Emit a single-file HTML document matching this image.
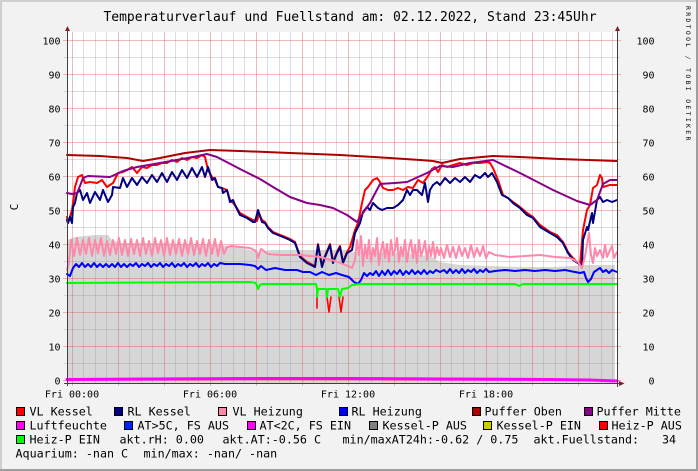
<!DOCTYPE html>
<html><head><meta charset="utf-8"><style>
html,body{margin:0;padding:0;background:#F2F2F2;}
svg{display:block;}
text{font-family:"DejaVu Sans Mono","Liberation Mono",monospace;fill:#000;}
</style></head><body>
<svg width="698" height="471" viewBox="0 0 698 471" xmlns="http://www.w3.org/2000/svg">
<rect x="0" y="0" width="698" height="471" fill="#F2F2F2"/>
<!-- frame shades -->
<rect x="0" y="0" width="698" height="2" fill="#CFCFCF"/>
<rect x="0" y="0" width="2" height="471" fill="#CFCFCF"/>
<rect x="0" y="469" width="698" height="2" fill="#9E9E9E"/>
<rect x="696" y="0" width="2" height="471" fill="#9E9E9E"/>

<!-- title -->
<text x="350" y="20.8" font-size="13" text-anchor="middle">Temperaturverlauf und Fuellstand am: 02.12.2022, Stand 23:45Uhr</text>
<!-- watermark -->
<text transform="translate(686,6) rotate(90)" font-size="6.5" letter-spacing="2.3" fill="#C4C4C4">RRDTOOL / TOBI OETIKER</text>
<!-- y axis title -->
<text transform="translate(18,207) rotate(-90)" font-size="11" text-anchor="middle">C</text>

<!-- canvas -->
<rect x="67" y="32" width="550" height="351" fill="#FFFFFF"/>

<!-- gray area (Kessel-P AUS) -->
<polygon fill="#D6D6D6" points="67,383 67,240 75,237 85,236 95,235 108,235 112,240 120,243 140,243 160,243 180,244 200,244 220,245 235,247 250,250 260,252 270,250 345,250 352,252 360,252 370,252 400,253 430,256 440,262 460,265 520,267 555,267 587,265 615,265 615,383"/>

<!-- minor vertical grid -->
<g stroke="rgba(143,143,143,0.3)" stroke-width="1">
<line x1="83.5" y1="32" x2="83.5" y2="383"/><line x1="95.5" y1="32" x2="95.5" y2="383"/><line x1="106.5" y1="32" x2="106.5" y2="383"/>
<line x1="129.5" y1="32" x2="129.5" y2="383"/><line x1="141.5" y1="32" x2="141.5" y2="383"/><line x1="152.5" y1="32" x2="152.5" y2="383"/>
<line x1="175.5" y1="32" x2="175.5" y2="383"/><line x1="187.5" y1="32" x2="187.5" y2="383"/><line x1="198.5" y1="32" x2="198.5" y2="383"/>
<line x1="221.5" y1="32" x2="221.5" y2="383"/><line x1="233.5" y1="32" x2="233.5" y2="383"/><line x1="244.5" y1="32" x2="244.5" y2="383"/>
<line x1="267.5" y1="32" x2="267.5" y2="383"/><line x1="279.5" y1="32" x2="279.5" y2="383"/><line x1="290.5" y1="32" x2="290.5" y2="383"/>
<line x1="313.5" y1="32" x2="313.5" y2="383"/><line x1="325.5" y1="32" x2="325.5" y2="383"/><line x1="336.5" y1="32" x2="336.5" y2="383"/>
<line x1="359.5" y1="32" x2="359.5" y2="383"/><line x1="371.5" y1="32" x2="371.5" y2="383"/><line x1="382.5" y1="32" x2="382.5" y2="383"/>
<line x1="405.5" y1="32" x2="405.5" y2="383"/><line x1="417.5" y1="32" x2="417.5" y2="383"/><line x1="428.5" y1="32" x2="428.5" y2="383"/>
<line x1="451.5" y1="32" x2="451.5" y2="383"/><line x1="463.5" y1="32" x2="463.5" y2="383"/><line x1="474.5" y1="32" x2="474.5" y2="383"/>
<line x1="497.5" y1="32" x2="497.5" y2="383"/><line x1="509.5" y1="32" x2="509.5" y2="383"/><line x1="520.5" y1="32" x2="520.5" y2="383"/>
<line x1="543.5" y1="32" x2="543.5" y2="383"/><line x1="555.5" y1="32" x2="555.5" y2="383"/><line x1="566.5" y1="32" x2="566.5" y2="383"/>
<line x1="589.5" y1="32" x2="589.5" y2="383"/><line x1="601.5" y1="32" x2="601.5" y2="383"/><line x1="612.5" y1="32" x2="612.5" y2="383"/>
<!-- minor horizontal -->
<line x1="64" y1="57.5" x2="620" y2="57.5"/><line x1="64" y1="91.5" x2="620" y2="91.5"/><line x1="64" y1="125.5" x2="620" y2="125.5"/>
<line x1="64" y1="159.5" x2="620" y2="159.5"/><line x1="64" y1="193.5" x2="620" y2="193.5"/><line x1="64" y1="227.5" x2="620" y2="227.5"/>
<line x1="64" y1="261.5" x2="620" y2="261.5"/><line x1="64" y1="295.5" x2="620" y2="295.5"/><line x1="64" y1="329.5" x2="620" y2="329.5"/>
<line x1="64" y1="363.5" x2="620" y2="363.5"/>
</g>
<!-- major grid -->
<g stroke="rgba(222,79,79,0.4)" stroke-width="1">
<line x1="72.5" y1="32" x2="72.5" y2="386"/><line x1="118.5" y1="32" x2="118.5" y2="386"/><line x1="164.5" y1="32" x2="164.5" y2="386"/>
<line x1="210.5" y1="32" x2="210.5" y2="386"/><line x1="256.5" y1="32" x2="256.5" y2="386"/><line x1="302.5" y1="32" x2="302.5" y2="386"/>
<line x1="348.5" y1="32" x2="348.5" y2="386"/><line x1="394.5" y1="32" x2="394.5" y2="386"/><line x1="440.5" y1="32" x2="440.5" y2="386"/>
<line x1="486.5" y1="32" x2="486.5" y2="386"/><line x1="532.5" y1="32" x2="532.5" y2="386"/><line x1="578.5" y1="32" x2="578.5" y2="386"/>
<line x1="63" y1="40.5" x2="621" y2="40.5"/><line x1="63" y1="74.5" x2="621" y2="74.5"/><line x1="63" y1="108.5" x2="621" y2="108.5"/>
<line x1="63" y1="142.5" x2="621" y2="142.5"/><line x1="63" y1="176.5" x2="621" y2="176.5"/><line x1="63" y1="210.5" x2="621" y2="210.5"/>
<line x1="63" y1="244.5" x2="621" y2="244.5"/><line x1="63" y1="278.5" x2="621" y2="278.5"/><line x1="63" y1="312.5" x2="621" y2="312.5"/>
<line x1="63" y1="346.5" x2="621" y2="346.5"/><line x1="63" y1="380.5" x2="621" y2="380.5"/>
</g>

<!-- series -->
<g fill="none" stroke-width="2" stroke-linejoin="round" stroke-linecap="round">
<!-- VL Kessel -->
<polyline stroke="#FF0000" points="67,217 68,223 72,210 73,203 75,187 78,177 82,175 85,183 90,182 97,183 102,180 107,187 113,183 118,173 123,172 127,170 132,167 137,173 142,167 147,168 152,165 157,165 162,163 167,163 172,160 177,162 182,158 187,160 192,157 197,158 202,155 205,157 208,170 212,177 215,180 218,187 222,188 227,190 230,200 235,205 240,213 247,217 253,220 257,221 259,214 262,220 265,222 268,227 273,232 283,236 290,239 295,242 300,256 307,262 315,266 318,244 322,266 325,256 330,244 333,262 337,252 340,246 343,262 347,252 350,247 355,230 358,223 362,203 365,190 368,187 373,180 377,178 380,182 383,188 388,190 393,190 398,188 403,190 408,187 413,188 418,180 423,183 428,176 432,169 435,167 438,172 442,165 447,167 453,165 460,163 467,165 473,163 480,163 487,162 490,163 493,168 498,180 503,195 508,198 513,202 520,207 527,213 533,217 540,225 550,232 557,235 563,242 568,252 573,258 580,265 583,230 587,210 590,205 593,188 597,185 600,175 602,178 603,187 610,185 617,185"/>
<!-- RL Kessel -->
<polyline stroke="#000080" points="67,220 68,223 70,217 72,223 73,207 75,203 77,193 80,190 83,200 87,193 90,203 95,192 100,200 103,190 108,202 112,195 113,187 120,188 123,178 127,187 132,178 137,185 142,177 147,183 152,175 157,182 162,173 167,182 172,172 177,180 182,170 187,178 192,168 197,177 202,167 205,177 208,167 212,180 215,178 218,187 222,188 223,193 227,190 230,202 233,200 235,205 240,215 247,218 253,222 255,222 258,210 262,222 265,223 268,228 273,233 283,237 290,240 295,243 300,257 307,263 315,267 318,245 322,267 325,257 330,245 333,263 337,253 340,247 343,263 347,253 352,250 355,233 360,223 363,212 367,207 370,210 373,203 378,208 382,210 387,208 393,208 398,205 403,200 407,190 410,195 413,190 417,190 422,195 425,183 428,202 430,190 433,185 437,182 440,185 445,178 450,183 455,178 460,182 465,177 470,182 475,175 480,178 485,173 488,177 492,173 497,182 502,195 508,198 513,203 520,208 527,215 533,218 540,227 550,233 557,237 563,243 568,253 573,260 578,263 582,266 583,240 587,227 588,230 592,213 593,223 597,200 600,197 603,202 607,200 612,202 617,200"/>
<!-- VL Heizung -->
<polyline stroke="#FF88AA" points="67,270 69,262 71,240 74,256 77,238 80,255 83,240 86,254 89,238 92,256 95,240 98,253 101,238 104,256 107,241 110,255 113,240 116,254 119,238 122,255 125,240 128,256 131,239 134,254 137,240 140,256 143,238 146,254 149,241 152,256 155,238 158,253 161,240 164,256 167,238 170,255 173,240 176,254 179,239 182,256 185,240 188,254 191,238 194,255 197,241 200,254 203,239 206,256 209,240 212,254 215,239 218,256 221,241 224,254 227,247 232,246 240,247 250,248 256,251 258,258 261,249 268,254 280,255 300,255 320,257 335,261 348,266 352,268 355,260 357,240 359,255 361,236 363,266 365,245 367,258 369,240 371,262 373,248 375,256 377,238 379,265 381,250 383,242 385,258 387,244 389,262 391,240 393,255 395,250 397,238 399,262 401,247 403,256 405,240 407,262 409,248 411,240 413,258 415,245 417,263 419,240 421,256 423,250 425,241 427,260 429,246 431,256 433,242 435,258 437,247 439,255 441,248 444,258 447,245 450,257 453,247 456,258 459,246 462,256 465,248 468,258 471,245 474,257 477,248 480,256 483,246 486,258 489,252 495,255 510,257 525,256 540,255 555,257 570,258 578,262 582,268 585,256 587,245 589,233 591,255 593,263 595,248 597,256 600,250 603,258 605,245 607,257 610,250 612,246 614,258 617,252"/>
<!-- RL Heizung -->
<polyline stroke="#0000FF" points="67,274 70,276 73,268 76,264 79,267 82,263 85,267 88,264 91,267 94,263 97,267 100,264 103,267 106,264 109,267 112,264 115,267 118,263 121,267 124,264 127,267 130,264 133,266 136,263 139,267 142,264 145,266 148,263 151,267 154,264 157,266 160,263 163,267 166,264 169,266 172,263 175,267 178,264 181,266 184,263 187,267 190,264 193,266 196,263 199,267 202,264 205,266 208,263 211,267 214,264 217,266 220,263 225,264 232,264 240,264 250,265 255,266 258,269 261,266 266,270 275,268 285,270 297,270 303,272 310,272 316,275 322,272 329,275 336,273 342,275 349,277 354,282 358,284 361,280 364,273 367,276 370,273 373,275 376,271 379,276 382,271 385,275 388,270 391,275 394,271 397,274 400,270 403,275 406,271 409,274 412,270 415,274 418,271 421,274 424,270 427,274 430,271 433,273 436,270 440,272 444,270 447,273 450,269 453,273 456,270 459,273 462,269 465,273 468,270 471,272 474,269 477,273 480,270 483,272 486,269 489,272 495,271 505,270 515,271 525,270 535,271 545,270 555,271 565,270 575,272 580,273 584,272 586,278 588,282 591,279 594,272 597,270 600,268 603,272 606,270 609,273 612,270 617,272"/>
<!-- Puffer Oben -->
<polyline stroke="#AA0000" points="67,155 100,156 127,158 143,161 160,158 185,153 210,150 240,151 290,153 340,155 390,158 420,160 433,161 442,163 460,159 493,156 520,157 560,159 617,161"/>
<!-- Puffer Mitte -->
<polyline stroke="#880088" points="67,193 72,194 77,193 80,186 83,178 88,176 110,177 123,171 137,167 160,163 193,157 207,154 217,157 240,169 260,179 273,187 290,197 307,203 320,205 333,208 347,215 357,222 363,213 370,203 380,184 395,183 407,182 427,173 440,166 453,167 470,163 493,160 520,173 553,190 577,201 590,205 597,200 603,184 610,180 617,180"/>
<!-- Luftfeuchte -->
<polyline stroke="#FF00FF" stroke-width="3" points="67,379.5 150,379 250,378.5 350,378.5 450,379 550,379.5 590,380 617,381"/>
<!-- Heiz-P AUS red spikes -->
<polyline stroke="#FF0000" stroke-width="1.6" points="317,296 317,308"/>
<polyline stroke="#FF0000" stroke-width="1.6" points="327,297 329,312 331,297"/>
<polyline stroke="#FF0000" stroke-width="1.6" points="339,297 341,312 343,297"/>
<!-- Heiz-P EIN -->
<polyline stroke="#00FF00" points="67,283 150,282.5 250,282 256,283 258,289 260,285 262,284 316,284 317,289 317,297 318,289 326,289 327,297 328,289 338,289 340,297 342,289 348,288 352,285 360,284 515,284 519,286 523,284 617,284"/>
</g>

<!-- axes -->
<g stroke="#404040" stroke-width="1">
<line x1="67.5" y1="29" x2="67.5" y2="386"/>
<line x1="617.5" y1="29" x2="617.5" y2="387"/>
<line x1="64" y1="383.5" x2="621" y2="383.5"/>
</g>
<g fill="#801F1F">
<polygon points="67.5,26 65,31 70,31"/>
<polygon points="617.5,26 615,31 620,31"/>
<polygon points="624.5,383.5 619,381 619,386"/>
</g>

<!-- y labels left -->
<g font-size="10" text-anchor="end">
<text x="60.5" y="44.3">100</text><text x="60.5" y="78.3">90</text><text x="60.5" y="112.3">80</text>
<text x="60.5" y="146.3">70</text><text x="60.5" y="180.3">60</text><text x="60.5" y="214.3">50</text>
<text x="60.5" y="248.3">40</text><text x="60.5" y="282.3">30</text><text x="60.5" y="316.3">20</text>
<text x="60.5" y="350.3">10</text><text x="60.5" y="384.3">0</text>
</g>
<!-- y labels right -->
<g font-size="10" text-anchor="end">
<text x="654.5" y="44.3">100</text><text x="654.5" y="78.3">90</text><text x="654.5" y="112.3">80</text>
<text x="654.5" y="146.3">70</text><text x="654.5" y="180.3">60</text><text x="654.5" y="214.3">50</text>
<text x="654.5" y="248.3">40</text><text x="654.5" y="282.3">30</text><text x="654.5" y="316.3">20</text>
<text x="654.5" y="350.3">10</text><text x="654.5" y="384.3">0</text>
</g>
<!-- x labels -->
<g font-size="10" text-anchor="middle">
<text x="72" y="397.5">Fri 00:00</text>
<text x="210" y="397.5">Fri 06:00</text>
<text x="348" y="397.5">Fri 12:00</text>
<text x="486" y="397.5">Fri 18:00</text>
</g>

<!-- legend -->
<g stroke="#000" stroke-width="1">
<rect x="16.5" y="407.5" width="8" height="8" fill="#FF0000"/>
<rect x="114.5" y="407.5" width="8" height="8" fill="#000080"/>
<rect x="218.5" y="407.5" width="8" height="8" fill="#FF88AA"/>
<rect x="339.5" y="407.5" width="8" height="8" fill="#0000FF"/>
<rect x="472.5" y="407.5" width="8" height="8" fill="#AA0000"/>
<rect x="584.5" y="407.5" width="8" height="8" fill="#880088"/>
<rect x="16.5" y="421.5" width="8" height="8" fill="#FF00FF"/>
<rect x="124.5" y="421.5" width="8" height="8" fill="#0022FF"/>
<rect x="247.5" y="421.5" width="8" height="8" fill="#FF00FF"/>
<rect x="369.5" y="421.5" width="8" height="8" fill="#808080"/>
<rect x="483.5" y="421.5" width="8" height="8" fill="#CCCC00"/>
<rect x="599.5" y="421.5" width="8" height="8" fill="#FF0000"/>
<rect x="16.5" y="435.5" width="8" height="8" fill="#00FF00"/>
</g>
<g font-size="11.7">
<text x="29.5" y="415.3">VL Kessel</text>
<text x="127.5" y="415.3">RL Kessel</text>
<text x="232.5" y="415.3">VL Heizung</text>
<text x="351.5" y="415.3">RL Heizung</text>
<text x="484.5" y="415.3">Puffer Oben</text>
<text x="596.5" y="415.3">Puffer Mitte</text>
<text x="29.5" y="429.3">Luftfeuchte</text>
<text x="137.5" y="429.3">AT&gt;5C, FS AUS</text>
<text x="259.5" y="429.3">AT&lt;2C, FS EIN</text>
<text x="382.5" y="429.3">Kessel-P AUS</text>
<text x="496.5" y="429.3">Kessel-P EIN</text>
<text x="611.5" y="429.3">Heiz-P AUS</text>
<text x="29.5" y="443.3">Heiz-P EIN</text>
<text x="119.5" y="443.3">akt.rH: 0.00</text>
<text x="222.5" y="443.3">akt.AT:-0.56 C</text>
<text x="342.5" y="443.3">min/maxAT24h:-0.62 / 0.75</text>
<text x="533.5" y="443.3">akt.Fuellstand:</text>
<text x="662" y="443.3">34</text>
<text x="15.5" y="457.3">Aquarium: -nan C</text>
<text x="143.5" y="457.3">min/max: -nan/ -nan</text>
</g>
</svg>
</body></html>
